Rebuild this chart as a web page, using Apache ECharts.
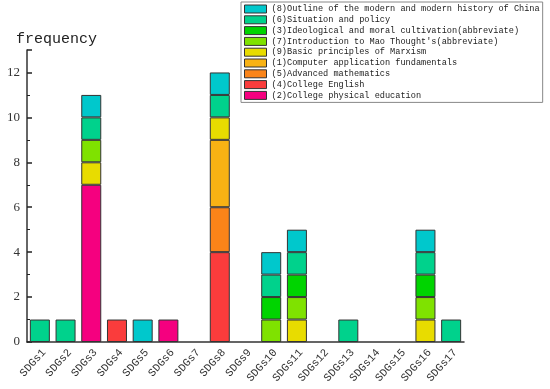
<!DOCTYPE html>
<html><head><meta charset="utf-8">
<script src="https://cdn.jsdelivr.net/npm/echarts@6/dist/echarts.min.js"></script>
<style>html,body{margin:0;padding:0;background:#fff}#c{width:550px;height:389px}</style>
</head><body><div id="c"></div>
<script>
const categories = ['SDGs1','SDGs2','SDGs3','SDGs4','SDGs5','SDGs6','SDGs7','SDGs8','SDGs9','SDGs10','SDGs11','SDGs12','SDGs13','SDGs14','SDGs15','SDGs16','SDGs17'];
const yTicks = [0,2,4,6,8,10,12];
// stacked bottom -> top
const physicalEducation = [0,0,7,0,0,1,0,0,0,0,0,0,0,0,0,0,0];
const collegeEnglish    = [0,0,0,1,0,0,0,4,0,0,0,0,0,0,0,0,0];
const advancedMath      = [0,0,0,0,0,0,0,2,0,0,0,0,0,0,0,0,0];
const computerApp       = [0,0,0,0,0,0,0,3,0,0,0,0,0,0,0,0,0];
const marxism           = [0,0,1,0,0,0,0,1,0,0,1,0,0,0,0,1,0];
const maoThought        = [0,0,1,0,0,0,0,0,0,1,1,0,0,0,0,1,0];
const ideological       = [0,0,0,0,0,0,0,0,0,1,1,0,0,0,0,1,0];
const situationPolicy   = [1,1,1,0,0,0,0,1,0,1,1,0,1,0,0,1,1];
const outlineHistory    = [0,0,1,0,1,0,0,1,0,1,1,0,0,0,0,1,0];

const seriesDefs = [
  ['(2)College physical education', physicalEducation, '#F5007F'],
  ['(4)College English', collegeEnglish, '#FA3C3C'],
  ['(5)Advanced mathematics', advancedMath, '#FA8419'],
  ['(1)Computer application fundamentals', computerApp, '#F8B214'],
  ['(9)Basic principles of Marxism', marxism, '#E8DC00'],
  ["(7)Introduction to Mao Thought's(abbreviate)", maoThought, '#7FE200'],
  ['(3)Ideological and moral cultivation(abbreviate)', ideological, '#00D400'],
  ['(6)Situation and policy', situationPolicy, '#00D28C'],
  ['(8)Outline of the modern and modern history of China', outlineHistory, '#00C8CC']
];

const chart = echarts.init(document.getElementById('c'), null, {renderer:'canvas'});
const mono = 'Liberation Mono';
const axisColor = '#333';
chart.setOption({
  animation:false,
  backgroundColor:'#fff',
  grid:{left:27,right:86,top:50,bottom:47},
  title:{text:'frequency',left:11,top:27,textStyle:{fontFamily:mono,fontSize:15,fontWeight:'normal',color:'#222'}},
  legend:{
    orient:'vertical',left:241,top:2,
    data:seriesDefs.map(d=>d[0]).reverse(),
    icon:'rect',itemWidth:22,itemHeight:8,itemGap:0.8,
    padding:[2,3,2,3],
    backgroundColor:'#fff',borderColor:'#888',borderWidth:1,
    textStyle:{fontFamily:mono,fontSize:8.6,lineHeight:10,color:'#222',padding:[0,0,0,0]},
    itemStyle:{borderColor:'#333',borderWidth:1}
  },
  xAxis:[{
    type:'category',data:categories,
    axisLine:{lineStyle:{color:axisColor,width:1.5}},
    axisTick:{inside:true,alignWithLabel:true,length:5,lineStyle:{color:'#222',width:1.5}},
    axisLabel:{rotate:48,fontFamily:mono,fontSize:11,color:'#333',margin:5,interval:0,verticalAlign:'top'}
  },{
    type:'category',data:categories,position:'bottom',
    axisLine:{show:false},
    axisTick:{inside:false,length:3,lineStyle:{color:'#222',width:1.5}},
    axisLabel:{show:false}
  }],
  yAxis:{
    type:'value',min:0,max:13,interval:2,
    axisLine:{show:true,lineStyle:{color:axisColor,width:1.5}},
    axisTick:{show:true,inside:true,length:5,lineStyle:{color:'#222',width:1.5}},
    minorTick:{show:true,splitNumber:2,length:3,lineStyle:{color:'#222',width:1}},
    splitLine:{show:false},
    axisLabel:{fontFamily:'Liberation Serif',fontSize:13,color:'#333',margin:7,
      formatter:v=>yTicks.includes(v)?String(v):''}
  },
  series:seriesDefs.map(([name,vals,color])=>({
    name,type:'bar',stack:'total',barWidth:20,
    data:vals.map(v=>v===0?'-':v),
    itemStyle:{color,borderColor:'#333',borderWidth:1}
  }))
});
</script></body></html>
